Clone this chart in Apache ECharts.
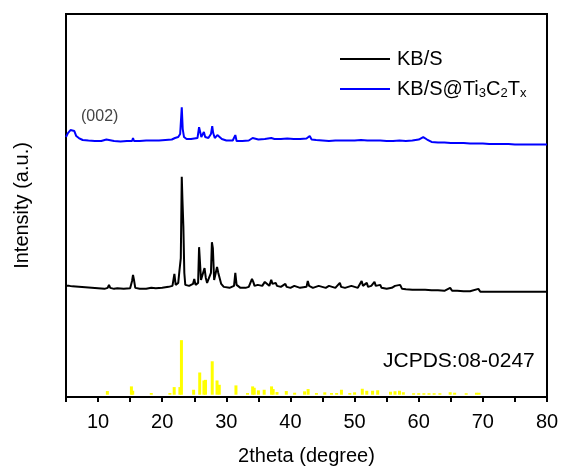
<!DOCTYPE html>
<html>
<head>
<meta charset="utf-8">
<script src="https://cdn.jsdelivr.net/npm/echarts@6/dist/echarts.min.js"></script>
<style>
  html, body { margin: 0; padding: 0; background: #fff; }
  #chart { width: 562px; height: 471px; }
</style>
</head>
<body>
<div id="chart"></div>
<script>
// KB/S trace, [2theta, intensity]
const kbS = [
  [5,112],[5.5,112],[6,111.5],[7,111],[8,110.5],[9,110],[10,109.5],[11,109],[11.5,110],[11.7,113],[11.9,110],
  [12.5,109],[13,109.5],[14,109],[15,109.5],[15.3,117],[15.45,123],[15.6,118],[15.8,110],[16.5,109],[17.5,109],
  [18.3,110],[19,109.5],[20,110],[21,111],[21.6,112],[21.9,124],[22.1,113],[22.5,115],[22.7,128],[22.9,140],
  [23.05,222],[23.15,200],[23.3,172],[23.45,125],[23.6,113],[24.2,112],[24.8,114],[25.0,119],[25.2,113],[25.6,115],
  [25.75,151],[25.9,150],[26.05,118],[26.3,116],[26.6,130],[26.8,120],[27.0,115],[27.2,114],[27.6,125],[27.75,156],
  [27.9,150],[28.1,118],[28.3,117],[28.55,131],[28.75,125],[29.0,124],[29.2,114],[29.6,111],[30.5,110],[31.2,112],
  [31.4,125],[31.6,113],[32.2,110],[33.0,110],[33.5,111],[34.0,119],[34.2,116],[34.4,112],[34.9,113],[35.1,113.5],
  [35.6,112],[36.0,116],[36.3,114],[36.7,112],[37.0,118],[37.2,114],[37.7,115],[37.9,112],[38.5,111],[39.2,114],
  [39.4,111],[40,110],[40.6,112],[40.8,110],[41.5,110],[42.5,111],[42.7,117],[42.9,112],[43.5,110],[44.4,112],
  [44.6,110],[45.5,110],[46.0,112],[46.2,110],[47,110],[47.7,115],[47.9,111],[48.5,110],[49.5,112],[49.7,110],
  [50.5,110],[51.1,117],[51.3,112],[51.9,115],[52.1,111],[52.6,112],[53.1,116],[53.3,112],[54.0,113],[54.2,110],
  [55,109],[55.8,110],[56.3,112],[56.6,110],[57.1,113],[57.4,109],[58,108.5],[59,108],[60,108],[61,108],
  [62,107.5],[63,107.5],[64,107],[64.9,110],[65.2,107],[66,107],[67,106.5],[68,106.5],[69.3,109],[69.6,106],
  [71,106],[72,106],[73,106],[74,106],[75,106],[76,106],[77,106],[78,106],[79,106],[80,106]
];

// KB/S@Ti3C2Tx trace, [2theta, intensity]
const kbSTi = [
  [5,262],[5.3,266],[5.7,269],[6.0,270],[6.3,268],[6.6,263],[7.0,261],[7.6,259],[8.5,258.5],[9.5,258],[10.5,258],
  [11.3,259.5],[11.5,258],[12.5,258],[13.5,257.5],[14.5,258],[15.3,258],[15.45,261],[15.6,258],[16.5,258],
  [17.5,258.5],[18.5,258.5],[19.5,258.5],[20.5,259],[21.5,259.5],[22.0,261],[22.5,262],[22.8,265],[23.05,292],
  [23.2,270],[23.4,262],[23.8,260],[24.5,260],[25.0,260.5],[25.5,261],[25.75,272],[25.9,270],[26.1,262],[26.5,267],
  [26.7,262],[27.2,261],[27.6,265],[27.8,273],[27.95,266],[28.2,261],[28.6,264],[28.9,262],[29.3,260],[30,258.5],
  [31.0,258.5],[31.4,264],[31.6,258],[32.5,258],[33.5,258.5],[34.1,261],[34.4,260],[35,259.5],[36,260],[36.5,260.5],
  [37,261],[37.5,260],[38.5,260],[39.5,260.5],[40.5,260],[41.5,260],[42.5,260.5],[43.0,263],[43.3,259.5],[44,259],
  [45,258.5],[46,258],[47,258.5],[48,258.5],[49,258.5],[50,258.5],[51,259],[52,258.5],[53,258.5],[54,258.5],
  [55,258],[56,258],[57,258.5],[58,258],[59,258.5],[60,259.5],[60.7,262],[61.3,259.5],[62,257],[63,256.5],
  [64,256.5],[65,256],[66,256],[67,256],[68,255.5],[69,255.5],[70,255.5],[71,255],[72,255],[73,255],[74,255],
  [75,254.5],[76,254.5],[77,254.5],[78,254.5],[79,254.5],[80,254.5]
];

// JCPDS 08-0247 reference lines
const refPos = [11.45,15.2,15.4,18.3,21.2,21.87,22.76,23.0,24.9,25.85,26.5,26.75,27.8,28.55,28.9,31.5,33.3,34.1,34.35,
  35.0,35.9,37.05,37.3,37.9,39.35,40.65,42.2,42.75,44.05,45.35,46.4,47.2,47.95,49.25,50.0,51.2,51.9,52.8,53.6,
  55.6,56.3,57.0,57.6,59.2,60.0,60.8,61.6,62.4,63.3,64.9,65.6,67.4,69.0,69.4];
const refInt = [3.7,8.4,4,1.7,1.7,7.7,7.7,55,5,22.4,14.4,15,33.7,14.4,10,9.4,1.7,8.4,7,
  4.4,5,8.4,5.7,2.7,3.7,2,3.4,5.7,1.7,2.4,1.7,1.7,5,1.7,2.4,6,4,4,4.5,
  3,3.5,4,2.5,1.5,1.5,1.5,1.5,1.5,1.5,2.5,2,1.5,2,2];
const refBase = 2.3;

const xTicks = [10, 20, 30, 40, 50, 60, 70, 80];

const chart = echarts.init(document.getElementById('chart'));
const font = 'Liberation Sans, Arial, sans-serif';

chart.setOption({
  animation: false,
  grid: { left: 66, right: 15, top: 14, bottom: 71, show: true, borderColor: '#000', borderWidth: 2, backgroundColor: 'transparent' },
  legend: {
    orient: 'vertical',
    left: 340,
    top: 48,
    padding: 0,
    icon: 'rect',
    itemWidth: 50,
    itemHeight: 2,
    itemGap: 8,
    data: ['KB/S', 'KB/S@Ti3C2Tx'],
    formatter: n => n === 'KB/S' ? 'KB/S' : 'KB/S@Ti{s|3}C{s|2}T{s|x}',
    textStyle: {
      fontFamily: font, fontSize: 20, color: '#000', padding: [0, 0, 0, 2], lineHeight: 22,
      rich: { s: { fontFamily: font, fontSize: 13, verticalAlign: 'bottom', padding: [12, 0, 0, 0] } }
    }
  },
  xAxis: {
    type: 'value', min: 5, max: 80, interval: 5,
    name: '2theta (degree)', nameLocation: 'middle', nameGap: 49,
    nameTextStyle: { fontFamily: font, fontSize: 20, color: '#000' },
    axisLine: { lineStyle: { color: '#000', width: 2 } },
    axisTick: { inside: false, length: 5, lineStyle: { color: '#000', width: 2 } },
    axisLabel: {
      fontFamily: font, fontSize: 20, color: '#000', margin: 15,
      formatter: v => xTicks.includes(v) ? String(v) : ''
    },
    splitLine: { show: false }
  },
  yAxis: {
    type: 'value', min: 0, max: 386,
    name: 'Intensity (a.u.)', nameLocation: 'middle', nameGap: 34,
    nameTextStyle: { fontFamily: font, fontSize: 20, color: '#000' },
    axisLine: { show: true, lineStyle: { color: '#000', width: 2 } },
    axisTick: { show: false }, axisLabel: { show: false }, splitLine: { show: false }
  },
  series: [
    {
      name: 'KB/S', type: 'line', data: kbS, symbol: 'none',
      lineStyle: { color: '#000', width: 2 }, itemStyle: { color: '#000' }
    },
    {
      name: 'KB/S@Ti3C2Tx', type: 'line', data: kbSTi, symbol: 'none',
      lineStyle: { color: '#0000ff', width: 2 }, itemStyle: { color: '#0000ff' }
    },
    {
      name: 'JCPDS', type: 'custom',
      data: refPos.map((p, i) => [p, refInt[i]]),
      renderItem: (params, api) => {
        const b = api.coord([api.value(0), refBase]);
        const t = api.coord([api.value(0), refBase + api.value(1)]);
        return { type: 'rect', shape: { x: b[0] - 1.5, y: t[1], width: 3, height: b[1] - t[1] }, style: { fill: '#ffff00' } };
      }
    }
  ],
  graphic: [
    { type: 'text', left: 81, top: 109, style: { text: '(002)', fontFamily: font, fontSize: 16, fill: '#444' } },
    { type: 'text', left: 383, top: 351, style: { text: 'JCPDS:08-0247', fontFamily: font, fontSize: 21, fill: '#000' } }
  ]
});
</script>
</body>
</html>
